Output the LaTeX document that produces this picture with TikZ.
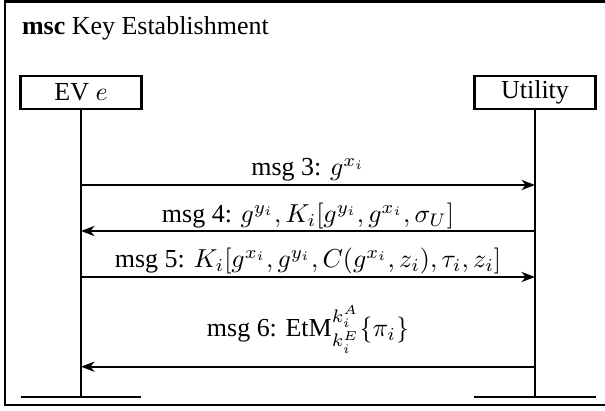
\documentclass[tikz,border=0pt]{standalone}
\usepackage{fontspec}
\setmainfont{Liberation Serif}
\usetikzlibrary{arrows.meta}
\begin{document}
\begin{tikzpicture}[x=0.385pt,y=-0.385pt,line width=0.8pt,
  inst/.style={draw,minimum width=46.6pt,minimum height=12.8pt,inner sep=0pt,font=\fontsize{10}{12}\selectfont},
  msgarrow/.style={-{Stealth[length=5.2pt,width=3.9pt,inset=1.6pt]}},
  lbl/.style={anchor=base,inner sep=0pt,font=\fontsize{10}{12}\selectfont}]
\useasboundingbox (0,0) rectangle (605,411);
% frame
\draw (5,1.5) rectangle (612,405);
\node[anchor=base west,inner sep=0pt,font=\fontsize{10}{12}\selectfont] (title) at (21,35) {\textbf{msc} Key Establishment};
% instances
\node[inst] (ev) at (81,92.3) {EV $e$};
\node[inst] (ut) at (535,92.3) {Utility};
\coordinate (evEnd) at (81,397);
\coordinate (utEnd) at (535,397);
\coordinate (evEndW) at (20.7,397);
\coordinate (evEndE) at (141.3,397);
\coordinate (utEndW) at (474,397);
\coordinate (utEndE) at (596,397);
\draw (ev.south) -- (evEnd);
\draw (ut.south) -- (utEnd);
\draw (evEndW) -- (evEndE);
\draw (utEndW) -- (utEndE);
% message points
\coordinate (m3L) at (81,185);  \coordinate (m3R) at (535,185);
\coordinate (m4L) at (81,231);  \coordinate (m4R) at (535,231);
\coordinate (m5L) at (81,277);  \coordinate (m5R) at (535,277);
\coordinate (m6L) at (81,366.7);\coordinate (m6R) at (535,366.7);
\draw[msgarrow] (m3L) -- (m3R);
\draw[msgarrow] (m4R) -- (m4L);
\draw[msgarrow] (m5L) -- (m5R);
\draw[msgarrow] (m6R) -- (m6L);
\node[lbl] (l3) at (308,176) {msg 3: $g^{x_i}$};
\node[lbl] (l4) at (308,222.5) {msg 4: $g^{y_i}, K_i[g^{y_i}, g^{x_i}, \sigma_U]$};
\node[lbl] (l5) at (308,267.5) {msg 5: $K_i[g^{x_i}, g^{y_i}, C(g^{x_i}, z_i), \tau_i, z_i]$};
\node[lbl] (l6) at (308,336.5) {msg 6: EtM$^{k_i^A}_{k_i^E}\{\pi_i\}$};
\end{tikzpicture}
\end{document}
